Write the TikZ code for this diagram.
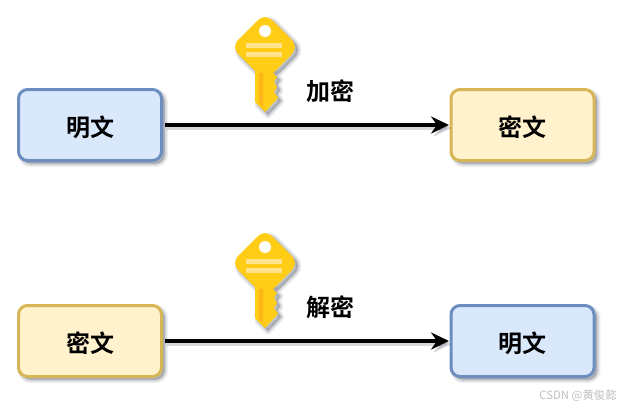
\documentclass[tikz,border=0pt]{standalone}
\usepackage{fontspec}
\newfontfamily\cjk{Noto Sans CJK SC}[BoldFont={Noto Sans CJK SC Bold}]
\usetikzlibrary{arrows.meta}
\definecolor{blueedge}{HTML}{6C8EBF}
\definecolor{bluefill}{HTML}{DAE8FC}
\definecolor{goldedge}{HTML}{D6B656}
\definecolor{goldfill}{HTML}{FFF2CC}
\definecolor{keyfill}{HTML}{FFCD16}
\definecolor{keybar}{HTML}{FFE289}
\definecolor{keyslot}{HTML}{FFB517}
\definecolor{shadowc}{HTML}{30384A}
\tikzset{
  softlayer/.style={preaction={draw=shadowc,fill=shadowc,line width=#1,draw opacity=.075,fill opacity=.075,line join=round,transform canvas={shift={(3pt,-3pt)}}}},
  softshadow/.style={softlayer=7pt,softlayer=5pt,softlayer=3pt,softlayer=1pt},
  textbox/.style={rounded corners=9pt,minimum width=143pt,minimum height=71pt,line width=3pt,softshadow,font=\cjk\bfseries\fontsize{24}{26}\selectfont,text=black,inner sep=0pt,text depth=0pt},
  plainbox/.style={textbox,draw=blueedge,fill=bluefill},
  cipherbox/.style={textbox,draw=goldedge,fill=goldfill},
  lbl/.style={font=\cjk\bfseries\fontsize{24}{26}\selectfont,text=black,inner sep=0pt},
  conn/.style={line width=3.2pt,black,-{Stealth[length=18pt,width=17pt,inset=6pt]}},
  connshadow/.style={line width=3.2pt,shadowc,draw opacity=.2,fill opacity=.2,-{Stealth[length=18pt,width=17pt,inset=6pt]}},
  wm/.style={font=\cjk\fontsize{11.4}{13}\selectfont,text=black!25,inner sep=0pt},
  pics/keyicon/.style={code={
    \path[fill=keyfill,softshadow]
      [rounded corners=10pt] (0,-34) -- (34,0) -- (0,34) -- (-34,0) -- cycle
      [sharp corners] (-10,22) -- (8,22) -- (8,26) -- (12,30) -- (9,35) -- (12,40) -- (9,45) -- (13,51) -- (0,65) -- (-10,55) -- cycle;
    \fill[white] (0,-16) circle (6);
    \fill[keybar] (-19,-4) rectangle (17,1);
    \fill[keybar] (-19,5) rectangle (17,10);
    \fill[keyslot] (-6,26) -- (-2,26) -- (-2,60) -- (-6,55) -- cycle;
  }}
}
\begin{document}
\begin{tikzpicture}[x=1pt,y=-1pt]
\useasboundingbox (0,0) rectangle (623,407);
\pic at (265,47) {keyicon};
\pic at (265,263) {keyicon};
\node[plainbox] (p1) at (90,125) {\raisebox{-2pt}{明文}};
\node[cipherbox] (c1) at (522.5,125) {\raisebox{-2pt}{密文}};
\node[cipherbox] (c2) at (90,341) {\raisebox{-2pt}{密文}};
\node[plainbox] (p2) at (522.5,341) {\raisebox{-2pt}{明文}};
\draw[connshadow] ([shift={(4,3)}]p1.east) -- ([shift={(2,3)}]c1.west);
\draw[connshadow] ([shift={(4,3)}]c2.east) -- ([shift={(2,3)}]p2.west);
\draw[conn] ([xshift=2pt]p1.east) -- ([xshift=-0.5pt]c1.west);
\draw[conn] ([xshift=2pt]c2.east) -- ([xshift=-0.5pt]p2.west);
\node[lbl] (enc) at (330.5,91.5) {加密};
\node[lbl] (dec) at (330.5,307.5) {解密};
\node[wm] (mark) at (578,396) {CSDN @黄俊懿};
\end{tikzpicture}
\end{document}
